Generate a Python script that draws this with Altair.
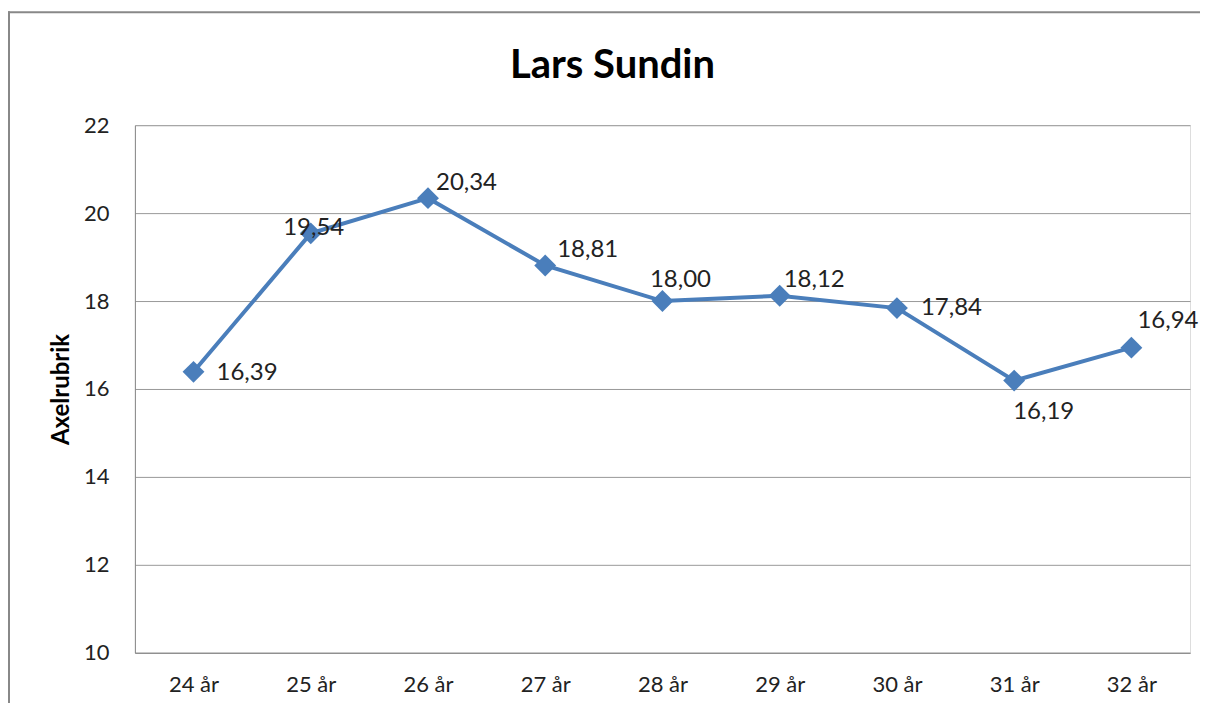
import altair as alt
import pandas as pd

ages = ["24 år", "25 år", "26 år", "27 år", "28 år", "29 år", "30 år", "31 år", "32 år"]
values = [16.39, 19.54, 20.34, 18.81, 18.00, 18.12, 17.84, 16.19, 16.94]
labels = ["16,39", "19,54", "20,34", "18,81", "18,00", "18,12", "17,84", "16,19", "16,94"]

# label placement style per category (align, dx, dy)
label_style = {
    "24 år": ("left", 23, 1),
    "25 år": ("center", 3, -5),
    "26 år": ("left", 8, -15),
    "27 år": ("left", 12, -15),
    "28 år": ("center", 18, -21),
    "29 år": ("left", 4, -16),
    "30 år": ("left", 24, 0),
    "31 år": ("left", -1, 31),
    "32 år": ("left", 6, -27),
}

df = pd.DataFrame({"age": ages, "value": values, "label": labels})

FONT = "Lato"
BLUE = "#4a7ebb"

x_enc = alt.X("age:N", sort=ages, title=None,
              scale=alt.Scale(type="point", padding=0.5),
              axis=alt.Axis(labelAngle=0, labelFontSize=22, labelColor="#222",
                            labelFont=FONT, ticks=False, domainColor="#888",
                            labelPadding=22, grid=False))
y_enc = alt.Y("value:Q", title="Axelrubrik",
              scale=alt.Scale(domain=[10, 22], nice=False, zero=False),
              axis=alt.Axis(values=[10, 12, 14, 16, 18, 20, 22], labelFontSize=22,
                            labelColor="#222", labelFont=FONT, ticks=False,
                            domainColor="#888", gridColor="#999", gridWidth=1,
                            labelPadding=26, titleFont=FONT, titleFontSize=24,
                            titleFontWeight="bold", titleColor="#000",
                            titlePadding=10))

base = alt.Chart(df)
one = base.transform_filter(alt.datum.age == "24 år")

# outer chart frame: top and left edges (the rest runs off the picture)
frame_top = one.mark_rule(stroke="#888", strokeWidth=2, clip=False).encode(
    x=alt.value(-127), x2=alt.value(1120), y=alt.value(-113))
frame_left = one.mark_rule(stroke="#888", strokeWidth=2, clip=False).encode(
    x=alt.value(-126), y=alt.value(-114), y2=alt.value(640))

line = base.mark_line(color=BLUE, strokeWidth=4).encode(x=x_enc, y=y_enc)
points = base.mark_point(shape="diamond", filled=True, opacity=1, color=BLUE, size=480).encode(
    x=alt.X("age:N", sort=ages), y="value:Q")

text_layers = []
for a in ages:
    align, dx, dy = label_style[a]
    text_layers.append(
        base.transform_filter(alt.datum.age == a).mark_text(
            align=align, baseline="middle", dx=dx, dy=dy, fontSize=24, font=FONT, color="#222"
        ).encode(x=alt.X("age:N", sort=ages), y="value:Q", text="label:N")
    )

chart = alt.layer(frame_top, frame_left, line, points, *text_layers).properties(
    width=1056, height=528,
    title=alt.TitleParams("Lars Sundin", fontSize=40, font=FONT, fontWeight="bold",
                          color="#000", anchor="middle", frame="group",
                          offset=0, dy=76, dx=-50),
    autosize=alt.AutoSizeParams(type="none"),
    padding={"left": 127, "top": 117, "right": 10, "bottom": 50},
).configure_view(stroke=None).configure(background="white")

chart.save("out.html", embed_options={"renderer": "svg", "actions": False})
